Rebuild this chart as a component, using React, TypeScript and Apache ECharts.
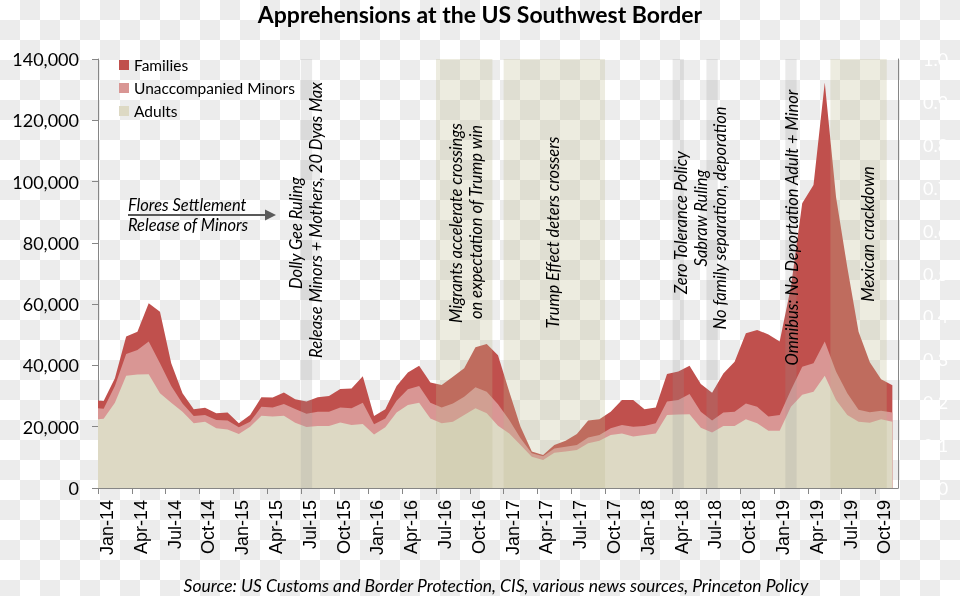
import React, { useEffect, useRef } from 'react';
import * as echarts from 'echarts';

// Months: Dec-13 is only partly visible (clipped at the axis), points sit mid-month
const months = [
  'Dec-13',
  'Jan-14', 'Feb-14', 'Mar-14', 'Apr-14', 'May-14', 'Jun-14', 'Jul-14', 'Aug-14', 'Sep-14', 'Oct-14', 'Nov-14', 'Dec-14',
  'Jan-15', 'Feb-15', 'Mar-15', 'Apr-15', 'May-15', 'Jun-15', 'Jul-15', 'Aug-15', 'Sep-15', 'Oct-15', 'Nov-15', 'Dec-15',
  'Jan-16', 'Feb-16', 'Mar-16', 'Apr-16', 'May-16', 'Jun-16', 'Jul-16', 'Aug-16', 'Sep-16', 'Oct-16', 'Nov-16', 'Dec-16',
  'Jan-17', 'Feb-17', 'Mar-17', 'Apr-17', 'May-17', 'Jun-17', 'Jul-17', 'Aug-17', 'Sep-17', 'Oct-17', 'Nov-17', 'Dec-17',
  'Jan-18', 'Feb-18', 'Mar-18', 'Apr-18', 'May-18', 'Jun-18', 'Jul-18', 'Aug-18', 'Sep-18', 'Oct-18', 'Nov-18', 'Dec-18',
  'Jan-19', 'Feb-19', 'Mar-19', 'Apr-19', 'May-19', 'Jun-19', 'Jul-19', 'Aug-19', 'Sep-19', 'Oct-19', 'Nov-19',
];

const adults = [
  22200,
  22600, 27800, 36600, 37000, 37100, 30900, 27800, 24900, 21100, 21600, 19500, 19100,
  17600, 20000, 23600, 23300, 23600, 21300, 19900, 20200, 20200, 21400, 20600, 20900,
  17500, 19800, 24600, 27100, 27800, 22700, 21100, 21600, 23800, 26000, 24400, 20300,
  17800, 14000, 10200, 9100, 11500, 11900, 12400, 14600, 15400, 17300, 17800, 16800,
  17300, 17800, 23800, 24000, 24100, 19700, 18100, 20200, 20200, 22400, 21100, 18700,
  18700, 26500, 30400, 31400, 36600, 28700, 23800, 21600, 21300, 22400, 21600,
];

const minors = [
  4000,
  3300, 5500, 7100, 8000, 10700, 9800, 5500, 2700, 2400, 2200, 2700, 2900,
  2200, 1600, 2900, 3000, 3800, 4500, 4300, 4700, 4700, 4900, 5400, 6900,
  3300, 2900, 3900, 5100, 5500, 5100, 5200, 6000, 6000, 6900, 7000, 7000,
  4400, 2200, 1100, 1300, 1400, 1600, 1600, 1900, 1900, 2200, 2800, 3200,
  2900, 3300, 4400, 4700, 6600, 5200, 3900, 4400, 4700, 5200, 5400, 4600,
  5100, 5500, 9200, 9300, 11200, 9300, 7100, 3900, 3400, 2800, 3000,
];

const families = [
  2500,
  2500, 2500, 5700, 6000, 12500, 16800, 7400, 3300, 2200, 2400, 2200, 2600,
  1300, 2200, 3100, 3200, 3800, 3200, 4000, 4700, 5100, 6000, 6500, 8700,
  2700, 3000, 4800, 5500, 6600, 6600, 7300, 8700, 9300, 13000, 15600, 16000,
  9200, 3800, 600, 400, 1100, 1900, 3600, 5500, 5100, 5400, 8100, 8700,
  5500, 5200, 9000, 9300, 9200, 9000, 9100, 12800, 16300, 22900, 25100, 26800,
  24000, 33700, 53300, 58200, 84500, 57000, 41100, 25500, 16300, 10300, 8900,
];

// Shaded periods: first month, last month, kind
const bandFrom = ['Jul-15', 'Jul-16', 'Jan-17', 'Apr-18', 'Jul-18', 'Feb-19', 'Jun-19'];
const bandTo = ['Jul-15', 'Nov-16', 'Sep-17', 'Apr-18', 'Jul-18', 'Feb-19', 'Oct-19'];
const bandKind = ['event', 'period', 'period', 'event', 'event', 'event', 'period'];

const rightTicks = [0, 1];

const COLORS = {
  families: '#C0504D',
  minors: '#D99694',
  adults: '#DDD9C4',
};

export default function App() {
  const ref = useRef<HTMLDivElement>(null);

  useEffect(() => {
    if (!ref.current) return;
    const chart = echarts.init(ref.current, null, { renderer: 'svg' });

    // cumulative tops of the stacked areas
    const minorsTop = adults.map((a, i) => a + minors[i]);
    const familiesTop = minorsTop.map((m, i) => m + families[i]);

    const toPts = (arr: number[]) => arr.map((v, i) => [i - 0.5, v]);
    const idx = (m: string) => months.indexOf(m);

    const bands = bandFrom.map((f, i) => [
      {
        xAxis: idx(f) - 1,
        itemStyle: {
          color: bandKind[i] === 'period' ? 'rgba(190,183,141,0.27)' : 'rgba(150,150,150,0.2)',
        },
      },
      { xAxis: idx(bandTo[i]) },
    ]);

    const mk = (name: string, data: number[], color: string, extra: any = {}) => ({
      name,
      type: 'line',
      data: toPts(data),
      symbol: 'none',
      showSymbol: false,
      clip: true,
      lineStyle: { width: 0, color },
      itemStyle: { color },
      areaStyle: { color, opacity: 1, origin: 'start' },
      emphasis: { disabled: true },
      ...extra,
    });

    const annFont = 'italic 16.5px Lato';
    const rot = (text: string, x: number, y: number) => ({
      type: 'text',
      x,
      y,
      rotation: Math.PI / 2,
      z: 100,
      style: {
        text,
        font: annFont,
        fill: '#000',
        align: 'center',
        verticalAlign: 'middle',
        textAlign: 'center',
        textVerticalAlign: 'middle',
      },
    });

    const option: any = {
      animation: false,
      backgroundColor: 'transparent',
      title: {
        text: 'Apprehensions at the US Southwest Border',
        left: 'center',
        top: 2,
        padding: 0,
        textStyle: { fontFamily: 'Lato', fontWeight: 'bold', fontSize: 23, color: '#000' },
      },
      legend: {
        orient: 'vertical',
        left: 119,
        top: 57,
        padding: 0,
        itemWidth: 10,
        itemHeight: 10,
        itemGap: 7,
        icon: 'rect',
        selectedMode: false,
        data: ['Families', 'Unaccompanied Minors', 'Adults'],
        textStyle: { fontFamily: 'Lato', fontSize: 15.5, color: '#000', lineHeight: 16 },
      },
      grid: { left: 98, right: 62, top: 59, bottom: 108, containLabel: false },
      xAxis: {
        type: 'value',
        min: 0,
        max: months.length - 1,
        interval: 3,
        splitLine: { show: false },
        axisLine: { show: true, lineStyle: { color: '#868686', width: 1 } },
        axisTick: { show: true, length: 6, lineStyle: { color: '#868686' } },
        axisLabel: {
          rotate: 90,
          margin: 12,
          fontFamily: 'Liberation Sans',
          fontSize: 18,
          color: '#000',
          verticalAlign: 'top',
          formatter: (v: number) => months[v + 1] ?? '',
          showMaxLabel: false,
        },
      },
      yAxis: [
        {
          type: 'value',
          min: 0,
          max: 140000,
          interval: 20000,
          splitLine: { show: false },
          axisLine: { show: true, lineStyle: { color: '#868686', width: 1 } },
          axisTick: { show: true, length: 6, lineStyle: { color: '#868686' } },
          axisLabel: {
            margin: 19,
            fontFamily: 'Lato',
            fontSize: 18,
            color: '#000',
            formatter: (v: number) => v.toLocaleString('en-US'),
          },
        },
        {
          type: 'value',
          position: 'right',
          min: rightTicks[0],
          max: rightTicks[1],
          interval: 0.1,
          splitLine: { show: false },
          axisLine: { show: true, lineStyle: { color: '#868686', width: 1 } },
          axisTick: { show: false },
          axisLabel: {
            margin: 25,
            fontFamily: 'Lato',
            fontSize: 18,
            color: '#ffffff',
            formatter: (v: number) => v.toFixed(1),
          },
        },
      ],
      series: [
        mk('Families', familiesTop, COLORS.families),
        mk('Unaccompanied Minors', minorsTop, COLORS.minors),
        mk('Adults', adults, COLORS.adults, {
          markArea: { silent: true, z: 10, data: bands, label: { show: false } },
        }),
      ],
      graphic: [
        {
          type: 'text',
          x: 128,
          y: 205,
          z: 100,
          style: { text: 'Flores Settlement', font: annFont, fill: '#000', align: 'left', verticalAlign: 'middle', textAlign: 'left', textVerticalAlign: 'middle' },
        },
        {
          type: 'text',
          x: 128,
          y: 225,
          z: 100,
          style: { text: 'Release of Minors', font: annFont, fill: '#000', align: 'left', verticalAlign: 'middle', textAlign: 'left', textVerticalAlign: 'middle' },
        },
        {
          type: 'line',
          z: 100,
          shape: { x1: 128, y1: 215, x2: 266, y2: 215 },
          style: { stroke: '#595959', lineWidth: 2 },
        },
        {
          type: 'polygon',
          z: 100,
          shape: { points: [[265, 209.5], [276, 215], [265, 220.5]] },
          style: { fill: '#595959' },
        },
        rot('Dolly Gee Ruling', 296, 233),
        rot('Release Minors + Mothers, 20 Dyas Max', 316, 220),
        rot('Migrants accelerate crossings', 456, 223),
        rot('on expectation of Trump win', 476, 222),
        rot('Trump Effect deters crossers', 552.5, 232.5),
        rot('Zero Tolerance Policy', 681, 222.5),
        rot('Sabraw Ruling', 701, 218),
        rot('No family separation, deporation', 720, 218),
        rot('Omnibus: No Deportation Adult + Minor', 792, 227.5),
        rot('Mexican crackdown', 867.5, 234),
        {
          type: 'text',
          x: 496,
          y: 585,
          z: 100,
          style: {
            text: 'Source: US Customs and Border Protection, CIS, various news sources, Princeton Policy',
            font: 'italic 17.5px Lato',
            fill: '#000',
            align: 'center',
            verticalAlign: 'middle',
            textAlign: 'center',
            textVerticalAlign: 'middle',
          },
        },
      ],
    };

    chart.setOption(option);
    return () => chart.dispose();
  }, []);

  return (
    <div
      ref={ref}
      style={{
        position: 'fixed',
        left: 0,
        top: 0,
        width: 960,
        height: 596,
        background: 'repeating-conic-gradient(#ececec 0% 25%, #ffffff 0% 50%) 0 0 / 40px 40px',
      }}
    />
  );
}
